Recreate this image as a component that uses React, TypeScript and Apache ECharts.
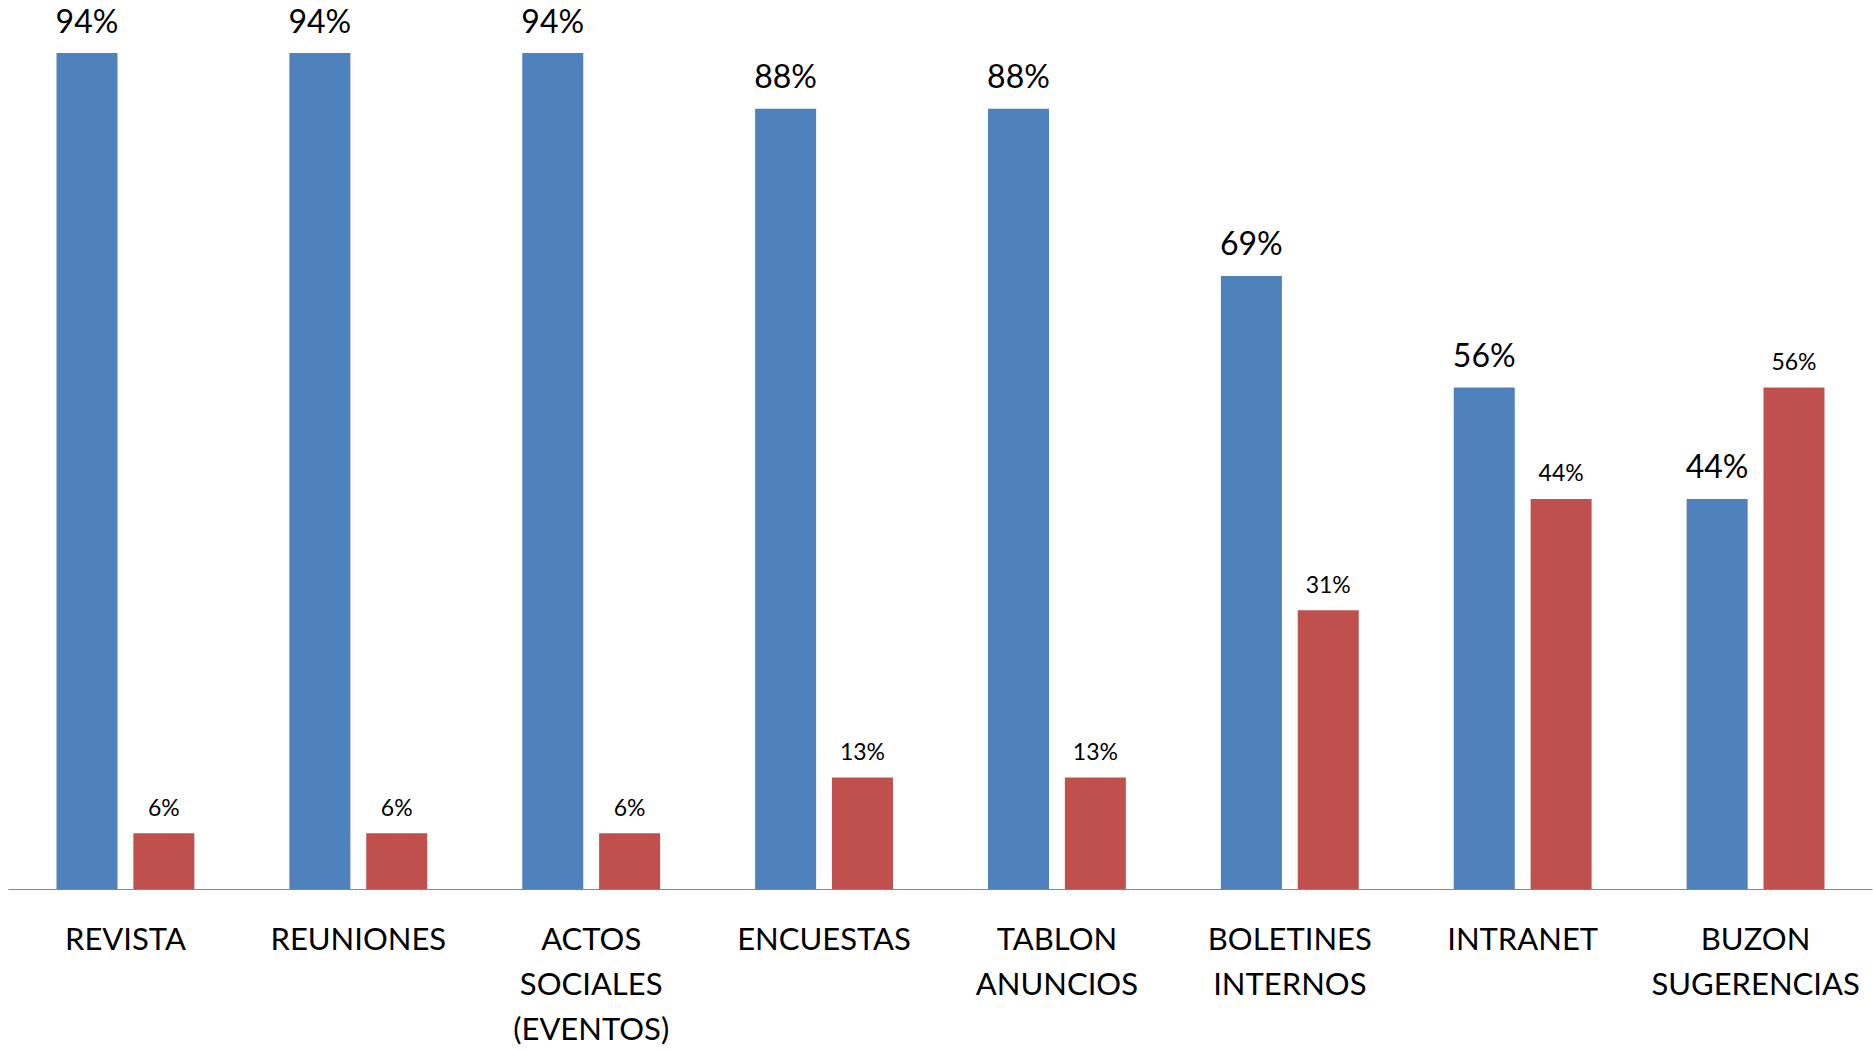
import React, { useEffect, useRef } from "react";
import * as echarts from "echarts";

const categories = [
  "REVISTA",
  "REUNIONES",
  "ACTOS\nSOCIALES\n(EVENTOS)",
  "ENCUESTAS",
  "TABLON\nANUNCIOS",
  "BOLETINES\nINTERNOS",
  "INTRANET",
  "BUZON\nSUGERENCIAS",
];
const blueValues = [93.75, 93.75, 93.75, 87.5, 87.5, 68.75, 56.25, 43.75];
const redValues = [6.25, 6.25, 6.25, 12.5, 12.5, 31.25, 43.75, 56.25];

const pct = (p: any) => Math.round(p.value) + "%";

export default function App() {
  const ref = useRef<HTMLDivElement>(null);
  useEffect(() => {
    if (!ref.current) return;
    const chart = echarts.init(ref.current, undefined, { renderer: "svg" });
    chart.setOption({
      animation: false,
      backgroundColor: "#ffffff",
      textStyle: { fontFamily: "Lato" },
      grid: { left: 9, right: 1, top: 0, bottom: 158, containLabel: false },
      xAxis: {
        type: "category",
        data: categories,
        axisLine: { lineStyle: { color: "#868686", width: 1 } },
        axisTick: { show: false },
        axisLabel: {
          interval: 0,
          color: "#000000",
          fontFamily: "Lato",
          fontSize: 31,
          lineHeight: 45,
          margin: 26,
        },
      },
      yAxis: {
        type: "value",
        min: 0,
        max: 99.7,
        show: false,
        splitLine: { show: false },
      },
      series: [
        {
          type: "bar",
          data: blueValues,
          barWidth: 61,
          barGap: "26%",
          itemStyle: { color: "#4F81BD" },
          label: {
            show: true,
            position: "top",
            distance: 17,
            formatter: pct,
            color: "#000000",
            fontFamily: "Lato",
            fontSize: 32,
          },
        },
        {
          type: "bar",
          data: redValues,
          barWidth: 61,
          barGap: "26%",
          itemStyle: { color: "#C0504D" },
          label: {
            show: true,
            position: "top",
            distance: 15,
            formatter: pct,
            color: "#000000",
            fontFamily: "Lato",
            fontSize: 23,
          },
        },
      ],
    });
    return () => chart.dispose();
  }, []);
  return (
    <div
      ref={ref}
      style={{ position: "fixed", left: 0, top: 0, width: 1873, height: 1050 }}
    />
  );
}
